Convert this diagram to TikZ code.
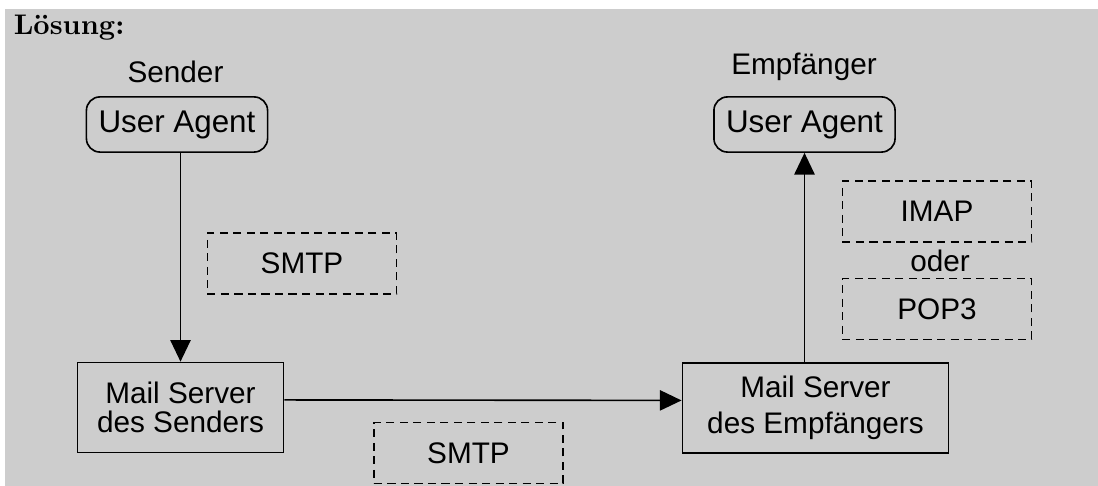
\documentclass[tikz,border=0pt]{standalone}
\usepackage{fontspec}
\setsansfont{Liberation Sans}
\usepackage{tikz}
\usetikzlibrary{arrows.meta}
\definecolor{bggray}{RGB}{205,205,205}
\newcommand{\useragent}[2] {\node at (#1) (#2) [agent] {User Agent};}
\newcommand{\mailserver}[4] {\node at (#1) (#2) [server, minimum width=#3] {#4};}
\newcommand{\protocol}[3] {\node at (#1) (#2) [proto] {#3};}
\newcommand{\maillabel}[3] {\node at (#1) (#2) [anchor=base, sans] {#3};}
\newcommand{\mailtransition}[2] {\draw [-{Triangle[length=8pt, width=7.5pt]}] (#1) -- (#2);}

\begin{document}
\begin{tikzpicture}[x=0.013cm, y=-0.013cm, line width=0.6pt,
  sans/.style={font=\sffamily\fontsize{11}{13}\selectfont},
  agent/.style={draw, font=\sffamily\fontsize{11.6}{13}\selectfont, rounded corners=5pt, minimum width=67pt, minimum height=20.4pt, inner sep=0pt},
  server/.style={draw, align=center, minimum height=33.3pt, inner sep=0pt, font=\sffamily\fontsize{11}{10.7}\selectfont},
  proto/.style={draw, sans, dash pattern=on 3pt off 2pt, minimum width=70pt, minimum height=22.5pt, inner sep=0pt}]
\useasboundingbox (0,0) rectangle (1098,486);
\fill [bggray] (5,9) rectangle (1098,486);
\node at (13,35) (title) [anchor=base west, inner sep=0pt, font=\fontsize{10.5}{12}\selectfont\bfseries] {Lösung:};

\maillabel {175.5,83} {sender} {Sender};
\maillabel {804,75} {receiver} {Empfänger};
\useragent {177,124.5} {uas};
\useragent {804.5,124.5} {uae};

\mailserver {180.5,407.5} {srvs} {76.3pt} {Mail Server\\des Senders};
\mailserver {815.5,408} {srve} {98.5pt} {Mail Server\\[2.7pt]des Empfängers};

\protocol {302,263.5} {smtpa} {SMTP};
\protocol {468.5,453} {smtpb} {SMTP};
\protocol {937,211.5} {imap} {IMAP};
\maillabel {940,271.7} {oder} {oder};
\protocol {937,309} {pop} {POP3};

\mailtransition {uas.south -| srvs.north} {srvs.north};
\mailtransition {[yshift=2.8pt]srvs.east} {[yshift=2.8pt]srve.west};
\mailtransition {srve.north -| uae.south} {uae.south};
\end{tikzpicture}
\end{document}
